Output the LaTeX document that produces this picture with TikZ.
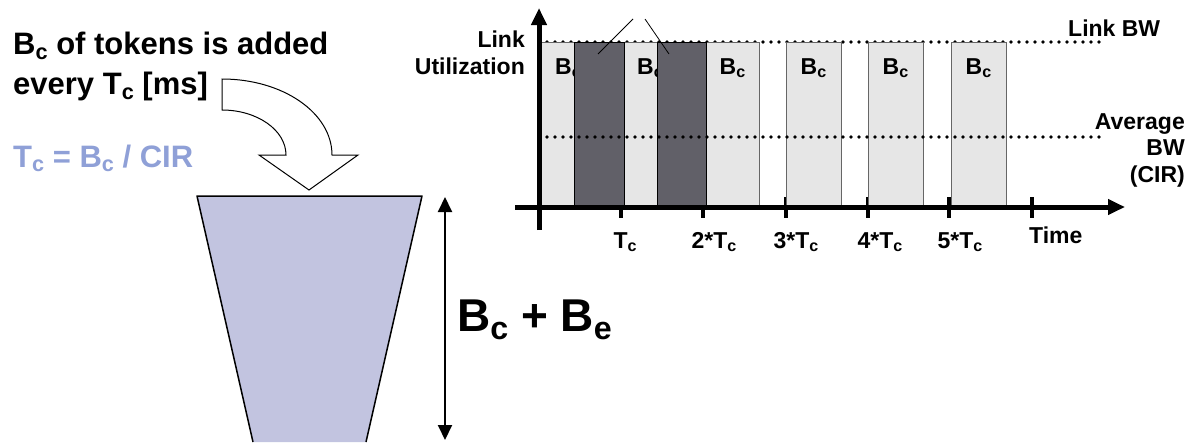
\documentclass[tikz,border=0pt]{standalone}
\usepackage{fontspec}
\setmainfont{Liberation Sans}
\usetikzlibrary{arrows.meta,positioning}
\definecolor{bucketfill}{RGB}{194,196,224}
\definecolor{rateblue}{RGB}{143,160,215}
\definecolor{barlight}{RGB}{230,230,230}
\definecolor{bardark}{RGB}{97,96,104}
\newcommand{\dn}[1]{\raisebox{-0.16em}{\scalebox{0.7}{#1}}}

\begin{document}
\begin{tikzpicture}[x=1pt, y=-1pt,
  txt/.style={font=\fontsize{31}{40}\selectfont\bfseries, inner sep=0pt, align=left},
  lbl/.style={font=\fontsize{23}{26.5}\selectfont\bfseries, inner sep=0pt},
  big/.style={font=\fontsize{46}{52}\selectfont\bfseries, inner sep=0pt},
  axis/.style={line width=5pt, -{Triangle[length=17pt,width=15pt]}},
  tickmark/.style={line width=4pt},
  lightbar/.style={fill=barlight, draw=black!60, line width=1pt},
  darkbar/.style={fill=bardark, draw=black, line width=1pt},
  dots/.style={line width=3.8pt, line cap=round, dash pattern=on 0pt off 8pt},
  leader/.style={line width=0.8pt},
  dim/.style={line width=2pt, {Triangle[length=15pt,width=14pt]}-{Triangle[length=15pt,width=14pt]}}
]
\useasboundingbox (0,0) rectangle (1191,442);

\node[txt, anchor=north west] (added) at (13,32) {B\dn{c} of tokens is added\\every T\dn{c} [ms]};
\node[txt, anchor=base west, text=rateblue] (rate) at (13,167) {T\dn{c} = B\dn{c} / CIR};

\draw[line width=1pt, fill=white] (222,79) .. controls (283,79) and (332,113) .. (332,155)
  -- (358,155) -- (309,190) -- (259,155) -- (286,155)
  .. controls (286,130) and (257,110) .. (222,110) -- cycle;

\fill[bucketfill] (197,196) -- (422,196) -- (366,442) -- (253,442) -- cycle;
\draw[line width=1.5pt, line join=round] (253,442) -- (197,196) -- (422,196) -- (366,442);

\coordinate (bktop) at (445,197);
\coordinate (bkbot) at (445,440);
\draw[dim] (bktop) -- (bkbot);
\node[big, anchor=west] (depth) at (457,320) {B\dn{c} + B\dn{e}};

\coordinate (o) at (539,207);
\draw[dots] (539,42) -- (1100,42);
\foreach \x in {621,703,786,868,949,1032}
  \draw[tickmark] (\x,197) -- (\x,218);

\foreach \a/\b in {539/574,624/657,706/759,786/841,868/923,951/1006}
  \draw[lightbar] (\a,42) rectangle (\b,207);
\node[lbl, anchor=base west] (bc1) at (555,74) {B\dn{c}};
\node[lbl, anchor=base west] (bc2) at (637,74) {B\dn{c}};
\foreach \a/\b in {574/624,657/706}
  \draw[darkbar] (\a,42) rectangle (\b,207);
\foreach \a/\b [count=\i from 3] in {706/759,786/841,868/923,951/1006}
  \node[lbl, anchor=base] (bc\i) at ({(\a+\b)/2},74) {B\dn{c}};

\draw[dots] (539,137) -- (1100,137);

\coordinate (c1) at (633,19);
\coordinate (c2) at (645,19);
\coordinate (d1) at (598,54);
\coordinate (d2) at (669,54);
\draw[leader] (c1) -- (d1);
\draw[leader] (c2) -- (d2);

\draw[axis] (539,230) -- (539,8);
\draw[axis] (515,207) -- (1125,207);

\node[lbl, anchor=north east, align=right] (util) at (525,31) {Link\\Utilization};
\node[lbl, anchor=base west] (linkbw) at (1068,36) {Link BW};
\node[lbl, anchor=north east, align=right] (avg) at (1185,113) {Average\\BW\\(CIR)};

\node[lbl, anchor=base] (t1) at (625,248) {T\dn{c}};
\node[lbl, anchor=base] (t2) at (714,248) {2*T\dn{c}};
\node[lbl, anchor=base] (t3) at (796,248) {3*T\dn{c}};
\node[lbl, anchor=base] (t4) at (880,248) {4*T\dn{c}};
\node[lbl, anchor=base] (t5) at (960,248) {5*T\dn{c}};
\node[lbl, anchor=base west] (time) at (1029,243) {Time};
\end{tikzpicture}
\end{document}
